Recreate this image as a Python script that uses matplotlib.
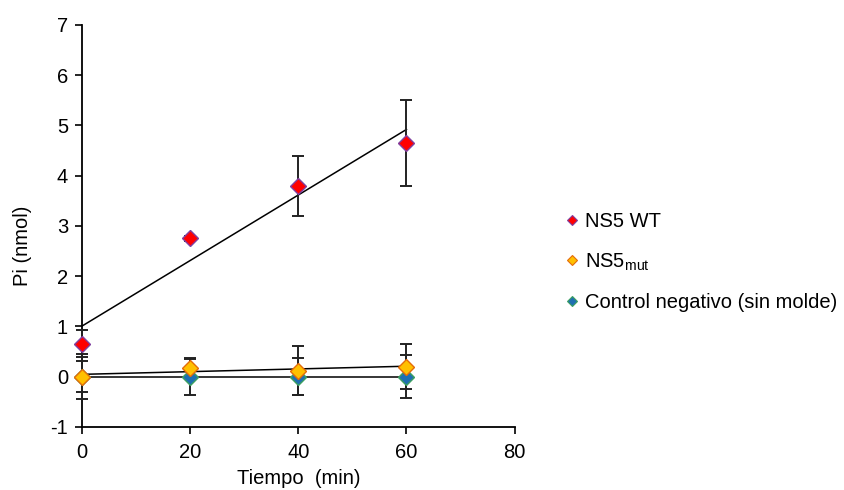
import numpy as np
import matplotlib
matplotlib.use("Agg")
import matplotlib.pyplot as plt
from matplotlib.lines import Line2D

plt.rcParams['font.family'] = ['Liberation Sans', 'DejaVu Sans']
plt.rcParams['mathtext.fontset'] = 'custom'
plt.rcParams['mathtext.rm'] = 'Liberation Sans'
plt.rcParams['mathtext.it'] = 'Liberation Sans'
plt.rcParams['axes.unicode_minus'] = False

time_min = [0, 20, 40, 60]
wt_values = [0.65, 2.75, 3.8, 4.65]
wt_err = [0.27, 0.05, 0.6, 0.85]
mut_values = [0.0, 0.18, 0.12, 0.2]
mut_err = [0.3, 0.17, 0.49, 0.45]
ctrl_values = [0.0, 0.0, 0.0, 0.0]
ctrl_err = [0.45, 0.37, 0.36, 0.43]

labels = ["NS5 WT", "NS5$_{\\mathrm{mut}}$", "Control negativo (sin molde)"]
xticks = [0, 20, 40, 60, 80]
yticks = [-1, 0, 1, 2, 3, 4, 5, 6, 7]

FS = 14.5

fig = plt.figure(figsize=(8.45, 4.9), dpi=100)
ax = fig.add_axes([0.097, 0.129, 0.512, 0.82])

series = [
    (wt_values, wt_err, '#FF0000', '#8040A0'),
    (mut_values, mut_err, '#FFC000', '#E46C0A'),
    (ctrl_values, ctrl_err, '#1F6FB0', '#3CA060'),
]

x = np.array(time_min, dtype=float)
# trend lines
for vals, err, fc, ec in series:
    p = np.polyfit(x, vals, 1)
    ax.plot([x[0], x[-1]], np.polyval(p, [x[0], x[-1]]), color='black', lw=1.1, zorder=2)

for vals, err, fc, ec in series:
    ax.errorbar(x, vals, yerr=err, fmt='none', ecolor='#222222', elinewidth=1.4,
                capsize=4, capthick=1.4, zorder=3, clip_on=False)
for vals, err, fc, ec in series[::-1]:
    ax.plot(x, vals, linestyle='none', marker='D', markersize=8.5, markerfacecolor=fc,
            markeredgecolor=ec, markeredgewidth=1.0, zorder=4, clip_on=False)

ax.set_xlim(0, 80)
ax.set_ylim(-1, 7)
ax.set_xticks(xticks)
ax.set_yticks(yticks)
ax.tick_params(direction='out', length=5, width=1.2, labelsize=FS, colors='black')
ax.tick_params(axis='x', pad=7)
ax.tick_params(axis='y', pad=5)
for s in ['top', 'right']:
    ax.spines[s].set_visible(False)
for s in ['left', 'bottom']:
    ax.spines[s].set_linewidth(1.3)
ax.set_xlabel("Tiempo  (min)", fontsize=FS, labelpad=5)
ax.set_ylabel("Pi (nmol)", fontsize=FS)
ax.yaxis.set_label_coords(-0.115, 0.45)

handles = [Line2D([], [], linestyle='none', marker='D', markersize=5.5,
                  markerfacecolor=fc, markeredgecolor=ec, markeredgewidth=0.8)
           for (_, _, fc, ec) in series]
fig.legend(handles, labels, loc='center left', bbox_to_anchor=(0.66, 0.465),
           frameon=False, fontsize=FS, handlelength=0.6, handletextpad=0.35,
           labelspacing=1.0, borderaxespad=0)

fig.savefig("out.png", dpi=100)
